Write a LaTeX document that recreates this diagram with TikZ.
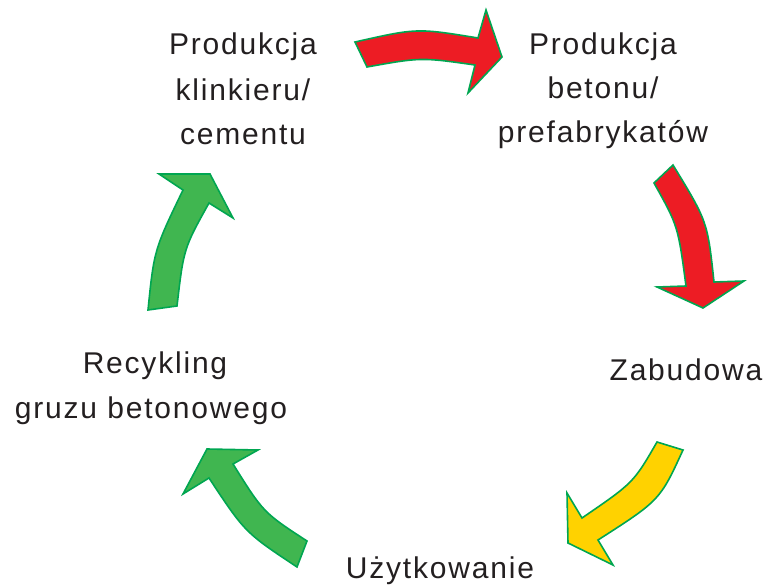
\documentclass[tikz,border=0pt]{standalone}
\usepackage{fontspec}
\setmainfont[LetterSpace=6]{Liberation Sans}
\definecolor{txt}{HTML}{231F20}
\definecolor{redfill}{HTML}{ED1C24}
\definecolor{yelfill}{HTML}{FFD200}
\definecolor{grnfill}{HTML}{40B650}
\definecolor{arrowline}{HTML}{00A651}
\begin{document}
\begin{tikzpicture}[x=1pt,y=-1pt]
\tikzset{
  lbl/.style={anchor=base, inner sep=0pt, text=txt, font=\fontsize{30}{36}\selectfont},
  blockarrow/.style={draw=arrowline, line width=1.6pt, line join=miter}
}
\useasboundingbox (0,0) rectangle (769,588);

% labels
\node[lbl] (k1) at (243,55) {Produkcja};
\node[lbl] (k2) at (243,101) {klinkieru/};
\node[lbl] (k3) at (243,145) {cementu};
\node[lbl] (b1) at (603,55) {Produkcja};
\node[lbl] (b2) at (603,99) {betonu/};
\node[lbl] (b3) at (603,143) {prefabrykatów};
\node[lbl] (z) at (686,380) {Zabudowa};
\node[lbl] (u) at (440,578) {Użytkowanie};
\node[lbl] (r1) at (155,373) {Recykling};
\node[lbl] (r2) at (151,418) {gruzu betonowego};

% arrow 1 (top, red)
\draw[blockarrow, fill=redfill] (355,42) .. controls (417,28) .. (478,38) -- (486,10) -- (502,57)
  -- (468,93) -- (475,65) .. controls (421,57.3) .. (367,67) -- cycle;
% arrow 2 (right, red)
\draw[blockarrow, fill=redfill] (673,165) .. controls (707.5,221.5) .. (714,282) -- (744,281) -- (703,308)
  -- (657,287) -- (686,286) .. controls (678,225.9) .. (654,183) -- cycle;
% arrow 3 (bottom right, yellow)
\draw[blockarrow, fill=yelfill] (683,450) .. controls (659.9,500.3) .. (598,540) -- (613,565) -- (568,543)
  -- (567,493) -- (582,518) .. controls (633.5,482.7) .. (657,442) -- cycle;
% arrow 4 (bottom left, green)
\draw[blockarrow, fill=grnfill] (297,567) .. controls (245,532.5) .. (209,478) -- (183,494) -- (207,449)
  -- (258,450) -- (233,464) .. controls (263.3,512.5) .. (307,541) -- cycle;
% arrow 5 (left, green)
\draw[blockarrow, fill=grnfill] (148,310) .. controls (154.1,250) .. (183,190) -- (159,174) -- (210,174)
  -- (233,218) -- (209,203) .. controls (183.7,248.5) .. (177,306) -- cycle;
\end{tikzpicture}
\end{document}
